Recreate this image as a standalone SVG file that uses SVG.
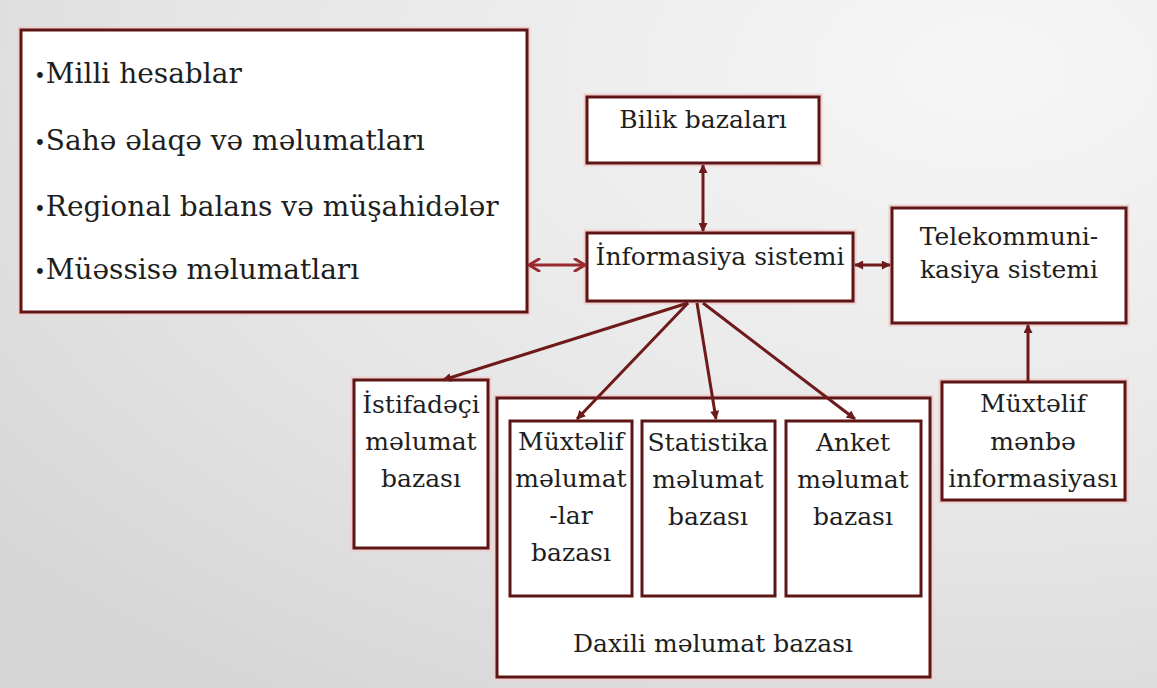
<svg xmlns="http://www.w3.org/2000/svg" width="1157" height="688" viewBox="0 0 1157 688">
  <defs>
    <radialGradient id="bg" cx="0.85" cy="0.1" r="1.1">
      <stop offset="0" stop-color="#f6f6f6"/>
      <stop offset="0.6" stop-color="#e6e6e6"/>
      <stop offset="1" stop-color="#d6d6d6"/>
    </radialGradient>
    <marker id="tri" viewBox="0 0 10 10" refX="9" refY="5" markerWidth="10" markerHeight="9" markerUnits="userSpaceOnUse" orient="auto-start-reverse">
      <path d="M0,0 L10,5 L0,10 Z" fill="#6e1a1a"/>
    </marker>
    <marker id="chev" viewBox="0 0 14 14" refX="12" refY="7" markerWidth="14" markerHeight="14" markerUnits="userSpaceOnUse" orient="auto-start-reverse">
      <path d="M2,1 L12,7 L2,13" fill="none" stroke="#9a2a2e" stroke-width="3" stroke-linecap="round" stroke-linejoin="round"/>
    </marker>
  </defs>
  <style>
    .box { fill: #ffffff; stroke: #5e1515; stroke-width: 3; }
    .glow { fill: none; stroke: #f0cfcf; stroke-width: 7; }
    .t { font-family: "DejaVu Serif", "Liberation Serif", serif; font-size: 25px; fill: #1e1e1e; text-anchor: middle; }
    .big { font-family: "DejaVu Serif", "Liberation Serif", serif; font-size: 28px; fill: #1e1e1e; }
    .b { font-size: 20px; }
    .c { fill: none; stroke: #6e1a1a; stroke-width: 3; }
    .cl { fill: none; stroke: #9a2a2e; stroke-width: 3; }
  </style>
  <rect x="0" y="0" width="1157" height="688" fill="url(#bg)"/>

  <g id="n-sources">
    <rect class="glow" x="21" y="30" width="506" height="282"/>
    <rect class="box" x="21" y="30" width="506" height="282"/>
    <text class="big" x="34" y="83"><tspan class="b">•</tspan>Milli hesablar</text>
    <text class="big" x="34" y="150"><tspan class="b">•</tspan>Sahə əlaqə və məlumatları</text>
    <text class="big" x="34" y="216"><tspan class="b">•</tspan>Regional balans və müşahidələr</text>
    <text class="big" x="34" y="279"><tspan class="b">•</tspan>Müəssisə məlumatları</text>
  </g>

  <g id="n-bilik">
    <rect class="glow" x="587" y="97" width="232" height="66"/>
    <rect class="box" x="587" y="97" width="232" height="66"/>
    <text class="t" x="703" y="128">Bilik bazaları</text>
  </g>

  <g id="n-informasiya">
    <rect class="glow" x="587" y="233" width="266" height="68"/>
    <rect class="box" x="587" y="233" width="266" height="68"/>
    <text class="t" x="720" y="265">İnformasiya sistemi</text>
  </g>

  <g id="n-telekom">
    <rect class="glow" x="892" y="208" width="234" height="115"/>
    <rect class="box" x="892" y="208" width="234" height="115"/>
    <text class="t" x="1009" y="245">Telekommuni-</text>
    <text class="t" x="1009" y="278">kasiya sistemi</text>
  </g>

  <g id="n-menbe">
    <rect class="glow" x="942" y="382" width="183" height="118"/>
    <rect class="box" x="942" y="382" width="183" height="118"/>
    <text class="t" x="1033" y="412">Müxtəlif</text>
    <text class="t" x="1033" y="450">mənbə</text>
    <text class="t" x="1033" y="487">informasiyası</text>
  </g>

  <g id="n-istifadeci">
    <rect class="glow" x="354" y="380" width="134" height="168"/>
    <rect class="box" x="354" y="380" width="134" height="168"/>
    <text class="t" x="421" y="413">İstifadəçi</text>
    <text class="t" x="421" y="450">məlumat</text>
    <text class="t" x="421" y="487">bazası</text>
  </g>

  <g id="n-daxili">
    <rect class="glow" x="497" y="398" width="433" height="279"/>
    <rect class="box" x="497" y="398" width="433" height="279"/>
    <text class="t" x="713" y="652">Daxili məlumat bazası</text>
  </g>

  <g id="n-muxtelif">
    <rect class="box" x="510" y="421" width="122" height="175"/>
    <text class="t" x="571" y="450">Müxtəlif</text>
    <text class="t" x="571" y="487">məlumat</text>
    <text class="t" x="571" y="524">-lar</text>
    <text class="t" x="571" y="561">bazası</text>
  </g>

  <g id="n-statistika">
    <rect class="box" x="642" y="421" width="133" height="175"/>
    <text class="t" x="708" y="451">Statistika</text>
    <text class="t" x="708" y="488">məlumat</text>
    <text class="t" x="708" y="525">bazası</text>
  </g>

  <g id="n-anket">
    <rect class="box" x="786" y="421" width="135" height="175"/>
    <text class="t" x="853" y="451">Anket</text>
    <text class="t" x="853" y="488">məlumat</text>
    <text class="t" x="853" y="525">bazası</text>
  </g>

  <g id="connectors">
    <line class="cl" x1="529" y1="265" x2="585" y2="265" marker-start="url(#chev)" marker-end="url(#chev)"/>
    <line class="c" x1="703" y1="165" x2="703" y2="231" marker-start="url(#tri)" marker-end="url(#tri)"/>
    <line class="c" x1="855" y1="265" x2="890" y2="265" marker-start="url(#tri)" marker-end="url(#tri)"/>
    <line class="c" x1="1028" y1="382" x2="1028" y2="325" marker-end="url(#tri)"/>
    <line class="c" x1="688" y1="303" x2="443" y2="380" marker-end="url(#tri)"/>
    <line class="c" x1="688" y1="303" x2="577" y2="419" marker-end="url(#tri)"/>
    <line class="c" x1="697" y1="303" x2="716" y2="419" marker-end="url(#tri)"/>
    <line class="c" x1="703" y1="303" x2="855" y2="419" marker-end="url(#tri)"/>
  </g>
</svg>
